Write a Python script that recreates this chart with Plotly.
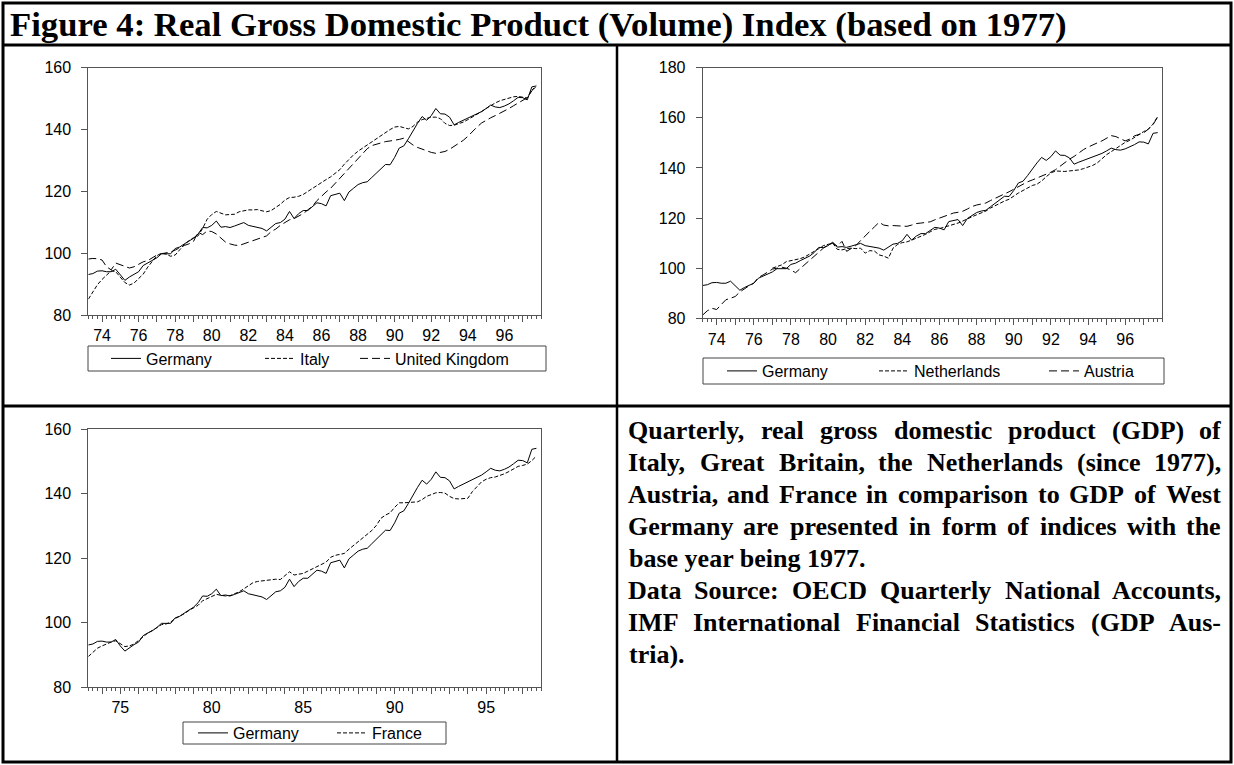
import plotly.graph_objects as go

# ---------------- data (quarterly index, 1977 = 100) ----------------
# observations run from 1973Q2 to 1997Q4 (Netherlands from 1977Q1)
first_year = 1973
first_quarter = 2

germany = [
    93.1, 93.4, 94.2,
    94.3, 94.0, 94.0, 94.8,
    92.8, 91.2, 92.3, 93.2,
    94.0, 96.0, 96.8, 97.5,
    98.5, 99.8, 99.8, 99.8,
    101.5, 102.0, 103.0, 104.0,
    104.8, 106.2, 108.3, 108.2,
    109.0, 110.4, 108.4, 108.6,
    108.3, 108.8, 109.3, 109.9,
    109.0, 108.6, 108.3, 108.0,
    107.2, 108.3, 109.6, 109.9,
    111.0, 113.5, 111.2, 112.8,
    113.8, 113.8, 115.0, 116.3,
    116.0, 115.3, 118.6, 119.0,
    119.4, 117.0, 119.8, 121.0,
    122.2, 122.8, 123.1, 124.5,
    125.9, 127.3, 128.7, 128.6,
    131.0, 134.0, 134.7, 137.0,
    139.6, 142.0, 144.2, 143.0,
    144.5, 146.8, 145.1, 145.0,
    144.0, 141.5, 142.3, 143.0,
    143.8, 144.5, 145.0, 145.8,
    146.8, 147.9, 147.3, 147.1,
    147.6, 148.3, 149.3, 150.4,
    150.3, 149.6, 153.8, 154.1,
]

italy = [
    85.1, 87.5, 89.8,
    91.5, 93.0, 94.3, 94.0,
    92.3, 90.5, 89.7, 90.3,
    91.8, 93.2, 95.5, 97.3,
    99.2, 100.0, 99.7, 99.0,
    99.4, 101.1, 102.8, 104.0,
    105.0, 105.6, 108.0, 111.0,
    112.5, 113.5, 113.0, 112.4,
    112.5, 112.6, 113.4, 113.8,
    114.0, 114.0, 114.1, 113.7,
    113.4, 113.8, 114.7, 115.8,
    117.2, 118.0, 118.1, 118.4,
    119.0, 120.0, 120.8, 121.8,
    123.0, 123.8, 124.7, 126.0,
    127.0, 128.8, 130.4, 131.8,
    133.0, 134.0, 135.0, 136.0,
    137.0, 138.2, 139.2, 140.0,
    140.8, 141.0, 140.6, 140.2,
    141.0, 142.4, 143.2, 143.6,
    144.0, 144.0, 143.5, 142.0,
    141.3, 141.4, 141.8, 142.4,
    143.2, 144.0, 144.9, 145.8,
    146.8, 147.8, 148.6, 149.3,
    149.8, 150.3, 150.6, 150.7,
    150.5, 150.2, 152.8, 153.8,
]

united_kingdom = [
    98.1, 98.3, 98.2,
    97.8, 95.6, 94.6, 96.8,
    96.3, 95.8, 95.2, 95.6,
    96.3, 97.2, 97.6, 98.4,
    99.4, 99.8, 100.0, 100.4,
    101.0, 101.8, 102.5, 103.0,
    103.8, 106.8, 106.0, 107.2,
    107.0, 106.2, 104.8, 103.6,
    103.0, 102.6, 102.5, 103.0,
    103.5, 104.0, 104.6, 105.2,
    105.6, 107.0, 107.8, 109.0,
    109.8, 110.8, 111.2, 112.0,
    112.8, 114.0, 115.2, 117.0,
    118.5, 119.8, 121.0, 122.6,
    124.2, 125.8, 127.3, 129.0,
    130.6, 132.3, 133.8, 134.8,
    135.3, 135.6, 136.1, 136.3,
    136.5, 136.8, 137.2, 136.0,
    135.0, 134.2, 133.6, 133.0,
    132.6, 132.3, 132.5, 132.9,
    133.6, 134.5, 135.4, 136.5,
    137.8, 139.4, 140.8, 142.1,
    143.0, 143.8, 144.5, 145.2,
    145.9, 146.8, 147.7, 148.5,
    149.3, 150.3, 152.5, 154.5,
]

netherlands = [  # 1977Q1 .. 1997Q4
    100.0, 100.5, 101.3, 102.6,
    103.0, 103.3, 103.8, 104.5,
    105.5, 106.8, 107.8, 109.0,
    109.6, 110.0, 107.5, 107.3,
    107.8, 108.0, 107.8, 108.0,
    106.0, 107.0, 106.8, 105.3,
    104.8, 104.0, 108.0, 109.5,
    110.2, 110.5, 111.2, 112.0,
    112.5, 113.5, 114.5, 115.5,
    115.8, 116.3, 117.0, 117.5,
    118.0, 118.8, 119.5, 120.5,
    121.3, 122.0, 122.8, 124.0,
    125.0, 126.0, 126.8, 127.5,
    128.8, 130.0, 131.0, 132.0,
    133.0, 133.5, 134.8, 136.5,
    138.0, 138.8, 138.6, 138.6,
    138.8, 139.0, 139.2, 139.7,
    140.2, 141.0, 142.0, 143.8,
    145.3, 146.5, 147.8, 149.0,
    150.2, 151.0, 152.2, 153.5,
    154.5, 155.5, 157.5, 160.5,
]

austria = [
    81.3, 83.0, 84.0,
    83.5, 85.5, 87.4, 88.0,
    88.7, 90.5, 91.8, 93.0,
    94.0, 96.3, 97.3, 98.5,
    99.6, 100.0, 100.4, 100.0,
    99.3, 98.2, 99.8, 101.5,
    103.0, 104.7, 106.2, 108.0,
    109.2, 110.0, 108.8, 110.7,
    106.7, 107.8, 109.0, 111.0,
    113.0, 114.7, 116.5, 118.3,
    117.2, 116.9, 117.0, 116.9,
    116.8, 116.7, 117.2, 117.8,
    118.0, 118.3, 118.5, 119.3,
    120.0, 120.6, 121.4, 122.0,
    122.3, 122.7, 123.6, 124.6,
    125.2, 125.6, 126.0, 127.0,
    127.8, 128.6, 129.5, 130.5,
    131.5, 132.6, 133.6, 134.5,
    135.2, 135.9, 136.6, 137.3,
    138.3, 139.3, 140.8, 142.2,
    143.5, 144.6, 146.0, 147.3,
    148.3, 149.0, 150.0, 150.8,
    152.0, 152.9, 152.5, 151.8,
    150.8, 151.5, 152.8, 153.4,
    154.0, 155.5, 157.3, 160.3,
]

france = [
    89.5, 90.8, 92.1,
    92.8, 93.5, 94.0, 94.4,
    93.5, 92.6, 92.8, 93.4,
    94.5, 95.8, 96.8, 97.6,
    98.4, 99.4, 99.6, 100.2,
    101.3, 102.0, 102.8, 103.8,
    104.5, 105.4, 106.8, 107.5,
    108.3, 108.8, 108.5, 108.3,
    108.4, 108.9, 109.6, 110.5,
    111.5, 112.4, 112.8, 113.0,
    113.2, 113.3, 113.5, 113.4,
    114.5, 115.8, 114.8, 115.0,
    115.3, 116.0, 116.7, 117.3,
    118.0, 118.8, 120.3, 120.9,
    121.2, 121.5, 122.8, 124.0,
    125.2, 126.4, 127.5, 128.6,
    130.2, 132.4, 133.4, 134.1,
    135.8, 137.2, 137.2, 137.2,
    137.4, 137.5, 138.2, 139.2,
    139.8, 140.3, 140.4, 140.2,
    139.2, 138.5, 138.4, 138.5,
    138.6, 140.7, 142.3, 143.7,
    144.5, 145.0, 145.2, 145.6,
    146.2, 146.9, 147.8, 148.5,
    148.8, 149.2, 150.3, 151.7,
]

top_tick_years = list(range(1974, 1998))
top_tick_text = [str(y)[2:] if y % 2 == 0 else "" for y in top_tick_years]
bottom_tick_text = [str(y)[2:] if y % 5 == 0 else "" for y in top_tick_years]

title_text = "Figure 4: Real Gross Domestic Product (Volume) Index (based on 1977)"
note_lines = [
    ("Quarterly, real gross domestic product (GDP) of", True),
    ("Italy, Great Britain, the Netherlands (since 1977),", True),
    ("Austria, and France in comparison to GDP of West", True),
    ("Germany are presented in form of indices with the", True),
    ("base year being 1977.", False),
    ("Data Source: OECD Quarterly National Accounts,", True),
    ("IMF International Financial Statistics (GDP Aus-", True),
    ("tria).", False),
]

# ---------------- helpers ----------------
W, H = 1234, 765
def X(px):
    return px / W
def Y(py):
    return 1 - py / H

quarters = [first_year + (first_quarter - 1) / 4 + 0.25 * i for i in range(len(germany))]
nl_quarters = quarters[len(quarters) - len(netherlands):]

SHORT = "4px,2px"
LONG = "8px,4px"
AX = "#555555"
SANS = "Liberation Sans, Arial, sans-serif"
SERIF = "Liberation Serif, Times New Roman, serif"

fig = go.Figure()

def add(x, y, name, dash, xa, ya, legend):
    fig.add_trace(go.Scatter(
        x=x, y=y, name=name, mode="lines", xaxis=xa, yaxis=ya, legend=legend,
        showlegend=True,
        line=dict(color="black", width=1, dash=dash), hoverinfo="x+y+name"))

add(quarters, germany, "Germany", "solid", "x", "y", "legend")
add(quarters, italy, "Italy", SHORT, "x", "y", "legend2")
add(quarters, united_kingdom, "United Kingdom", LONG, "x", "y", "legend3")
add(quarters, germany, "Germany", "solid", "x2", "y2", "legend4")
add(nl_quarters, netherlands, "Netherlands", SHORT, "x2", "y2", "legend5")
add(quarters, austria, "Austria", LONG, "x2", "y2", "legend6")
add(quarters, germany, "Germany", "solid", "x3", "y3", "legend7")
add(quarters, france, "France", SHORT, "x3", "y3", "legend8")

def xaxis(dom, ticktext):
    return dict(domain=[X(dom[0]), X(dom[1])], range=[1973.25, 1998.0],
                showline=True, mirror=True, linecolor=AX, linewidth=1,
                ticks="outside", ticklen=6, tickcolor=AX, tickwidth=1,
                tickmode="array", tickvals=top_tick_years, ticktext=ticktext,
                tickfont=dict(family=SANS, size=16, color="black"),
                showgrid=False, zeroline=False,
                minor=dict(ticks="outside", ticklen=3, tickcolor=AX, tickwidth=1,
                           tick0=1973.25, dtick=0.25, showgrid=False))

def yaxis(dom, rng, anchor):
    return dict(domain=[Y(dom[1]), Y(dom[0])], range=rng, anchor=anchor,
                showline=True, mirror=True, linecolor=AX, linewidth=1,
                ticks="outside", ticklen=6, tickcolor=AX, tickwidth=1,
                dtick=20, tick0=80, ticklabelstandoff=7,
                tickfont=dict(family=SANS, size=16, color="black"),
                showgrid=False, zeroline=False)

fig.update_layout(
    width=W, height=H, margin=dict(l=0, r=0, t=0, b=0, autoexpand=False),
    paper_bgcolor="white", plot_bgcolor="white", showlegend=True,
    xaxis=dict(xaxis((88.3, 541), top_tick_text), anchor="y"),
    yaxis=yaxis((67.7, 315), [80, 160], "x"),
    xaxis2=dict(xaxis((702.7, 1162.3), top_tick_text), anchor="y2"),
    yaxis2=yaxis((67.7, 318.3), [80, 180], "x2"),
    xaxis3=dict(xaxis((88.3, 541), bottom_tick_text), anchor="y3"),
    yaxis3=yaxis((429.3, 687.2), [80, 160], "x3"),
)

def legend(text_left, cy):
    # one legend per entry so each entry sits where it does in the original
    return dict(x=X(text_left - 40), y=Y(cy), xanchor="left", yanchor="middle",
                orientation="h", borderwidth=0, bgcolor="rgba(0,0,0,0)", visible=True,
                font=dict(family=SANS, size=16, color="black"), itemclick=False)

fig.update_layout(
    legend=legend(146, 358.5), legend2=legend(300, 358.5), legend3=legend(395, 358.5),
    legend4=legend(762, 371), legend5=legend(914, 371), legend6=legend(1084, 371),
    legend7=legend(233, 733), legend8=legend(372, 733),
)

shapes = []
def line(x0, y0, x1, y1, w, color="black"):
    shapes.append(dict(type="line", xref="paper", yref="paper",
                       x0=X(x0), y0=Y(y0), x1=X(x1), y1=Y(y1),
                       line=dict(color=color, width=w)))
def box(x0, y0, x1, y1, w=1, color="black"):
    shapes.append(dict(type="rect", xref="paper", yref="paper",
                       x0=X(x0), y0=Y(y0), x1=X(x1), y1=Y(y1),
                       line=dict(color=color, width=w)))

box(3, 3, 1231, 762, 3)
line(3, 45, 1231, 45, 3)
line(3, 406, 1231, 406, 3)
line(617, 45, 617, 762, 2.5)
box(88, 346, 546, 371, 1, "#444")
box(703, 358, 1164, 384, 1, "#444")
box(183, 722, 446, 744, 1, "#444")
fig.update_layout(shapes=shapes)

# ---------------- text ----------------
annotations = [dict(text="<b>" + title_text + "</b>", x=X(8), y=Y(24), xref="paper", yref="paper",
                    xanchor="left", yanchor="middle", showarrow=False,
                    font=dict(family=SERIF, size=34.7, color="black"))]

TB = {' ': 250, ',': 250, '.': 250, '-': 333, '(': 333, ')': 333, ':': 333,
      'A': 722, 'B': 667, 'C': 722, 'D': 722, 'E': 667, 'F': 611, 'G': 778, 'H': 778,
      'I': 389, 'M': 944, 'N': 722, 'O': 778, 'P': 611, 'Q': 778, 'S': 556, 'W': 1000,
      'a': 500, 'b': 556, 'c': 444, 'd': 556, 'e': 444, 'f': 333, 'g': 500, 'h': 556,
      'i': 278, 'l': 278, 'm': 833, 'n': 556, 'o': 500, 'p': 556, 'r': 444, 's': 389,
      't': 333, 'u': 556, 'w': 722, 'x': 500, 'y': 500}
BODY = 26
def tw(s):
    return sum(TB.get(c, 500) for c in s) / 1000 * BODY

left, right = 627, 1222
for i, (ln, just) in enumerate(note_lines):
    cy = 430 + 32 * i
    words = ln.split(" ")
    if not just:
        annotations.append(dict(text="<b>" + ln + "</b>", x=X(left), y=Y(cy), xref="paper", yref="paper",
                                xanchor="left", yanchor="middle", showarrow=False,
                                font=dict(family=SERIF, size=BODY, color="black")))
        continue
    widths = [tw(w) for w in words]
    gap = (right - left - sum(widths)) / (len(words) - 1)
    pos = left
    for j, (wd, w) in enumerate(zip(words, widths)):
        if j == 0:
            xa, xx = "left", pos
        elif j == len(words) - 1:
            xa, xx = "right", right
        else:
            xa, xx = "center", pos + w / 2
        annotations.append(dict(text="<b>" + wd + "</b>", x=X(xx), y=Y(cy), xref="paper", yref="paper",
                                xanchor=xa, yanchor="middle", showarrow=False, borderpad=0,
                                font=dict(family=SERIF, size=BODY, color="black")))
        pos += w + gap

fig.update_layout(annotations=annotations)
fig.write_html("out.html", config={"displayModeBar": False},
               post_script="document.body.style.margin='0px';")
